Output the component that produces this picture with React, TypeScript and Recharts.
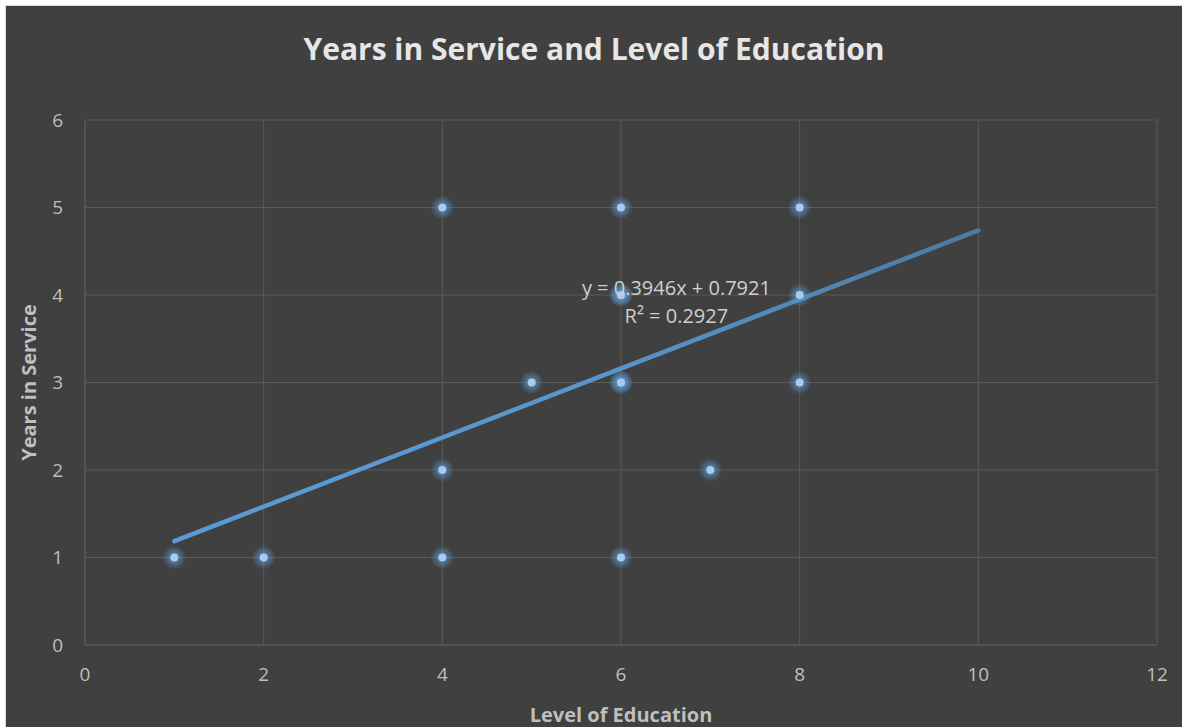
import React from 'react';
import {
  ComposedChart,
  Scatter,
  Line,
  XAxis,
  YAxis,
  CartesianGrid,
  ReferenceDot,
} from 'recharts';

// Observations: level of education (x) vs years in service (y)
const educationLevels = [1, 2, 4, 4, 4, 5, 6, 6, 6, 6, 6, 6, 7, 8, 8, 8];
const yearsInService = [1, 1, 5, 2, 1, 3, 5, 4, 4, 3, 3, 1, 2, 5, 4, 3];

// Linear trendline, as reported on the chart
const trendSlope = 0.3946;
const trendIntercept = 0.7921;
const trendRSquared = 0.2927;
const trendRange = [1, 10];

const xTicks = [0, 2, 4, 6, 8, 10, 12];
const yTicks = [0, 1, 2, 3, 4, 5, 6];

const points = educationLevels.map((x, i) => ({ x, y: yearsInService[i] }));
const trendPoints = trendRange.map((x) => ({ x, y: trendSlope * x + trendIntercept }));

const FONT = '"Open Sans", "Noto Sans", sans-serif';
const BG = '#404040';
const GRID = '#595959';
const TICK = '#bfbfbf';

const GlowDot = (props: any) => {
  const { cx, cy } = props;
  if (cx == null || cy == null) return null;
  return (
    <g>
      <circle cx={cx} cy={cy} r={12} fill="url(#dotGlow)" />
      <circle cx={cx} cy={cy} r={4} fill="#a8cbee" />
    </g>
  );
};

const TrendLabel = (props: any) => {
  const { viewBox } = props;
  const x = viewBox.x + (viewBox.width || 0) / 2;
  const y = viewBox.y + (viewBox.height || 0) / 2;
  return (
    <g fontFamily={FONT} fontSize={20} fill="#cfcfcf">
      <text x={x} y={y} textAnchor="middle" dominantBaseline="central">
        {`y = ${trendSlope}x + ${trendIntercept}`}
      </text>
      <text x={x} y={y + 28} textAnchor="middle" dominantBaseline="central">
        {`R² = ${trendRSquared}`}
      </text>
    </g>
  );
};

export default function App() {
  return (
    <div
      style={{
        position: 'fixed',
        left: 0,
        top: 0,
        width: 1182,
        height: 727,
        background: '#ffffff',
        overflow: 'hidden',
      }}
    >
      <svg width={0} height={0} style={{ position: 'absolute' }}>
        <defs>
          <radialGradient id="dotGlow">
            <stop offset="0%" stopColor="#5b9bd5" stopOpacity={0.95} />
            <stop offset="45%" stopColor="#5b9bd5" stopOpacity={0.5} />
            <stop offset="100%" stopColor="#5b9bd5" stopOpacity={0} />
          </radialGradient>
          <linearGradient id="trendFade" x1="0" y1="0" x2="1" y2="0">
            <stop offset="0%" stopColor="#5b9bd5" />
            <stop offset="55%" stopColor="#5795cc" />
            <stop offset="100%" stopColor="#4c7aa3" />
          </linearGradient>
        </defs>
      </svg>
      <div
        style={{
          position: 'absolute',
          left: 5,
          top: 5,
          width: 1177,
          height: 722,
          background: BG,
          borderLeft: '1px solid #d9d9d9',
          borderTop: '1px solid #d9d9d9',
          boxSizing: 'border-box',
        }}
      />
      <div
        style={{
          position: 'absolute',
          left: 6,
          top: 29,
          width: 1176,
          textAlign: 'center',
          fontFamily: FONT,
          fontWeight: 700,
          fontSize: 30,
          color: '#e6e6e6',
          lineHeight: '40px',
        }}
      >
        Years in Service and Level of Education
      </div>
      <div style={{ position: 'absolute', left: 0, top: 0 }}>
        <ComposedChart
          width={1182}
          height={727}
          margin={{ top: 120, right: 25, bottom: 0, left: 0 }}
        >
          <CartesianGrid stroke={GRID} strokeWidth={1} />
          <XAxis
            type="number"
            dataKey="x"
            domain={[0, 12]}
            ticks={xTicks}
            interval={0}
            height={82}
            tickSize={0}
            tickMargin={23}
            axisLine={{ stroke: GRID }}
            tick={{ fill: TICK, fontSize: 19, fontFamily: FONT }}
            label={{
              value: 'Level of Education',
              position: 'insideBottom',
              offset: 5,
              style: { fill: TICK, fontSize: 20, fontWeight: 700, fontFamily: FONT },
            }}
          />
          <YAxis
            type="number"
            dataKey="y"
            domain={[0, 6]}
            ticks={yTicks}
            interval={0}
            width={85}
            tickSize={0}
            tickMargin={22}
            axisLine={{ stroke: GRID }}
            tick={{ fill: TICK, fontSize: 19, fontFamily: FONT }}
            label={{
              value: 'Years in Service',
              angle: -90,
              position: 'insideLeft',
              offset: 29,
              style: {
                fill: TICK,
                fontSize: 20,
                fontWeight: 700,
                fontFamily: FONT,
                textAnchor: 'middle',
              },
            }}
          />
          <Line
            data={trendPoints}
            dataKey="y"
            type="linear"
            stroke="url(#trendFade)"
            strokeWidth={4.5}
            strokeLinecap="round"
            dot={false}
            activeDot={false}
            isAnimationActive={false}
          />
          <Scatter data={points} dataKey="y" shape={GlowDot} isAnimationActive={false} />
          <ReferenceDot
            x={6.62}
            y={4.09}
            r={0}
            fill="none"
            stroke="none"
            label={<TrendLabel />}
          />
        </ComposedChart>
      </div>
    </div>
  );
}
